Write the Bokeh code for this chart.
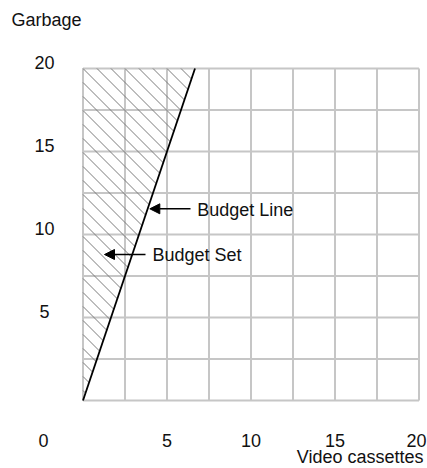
import numpy as np
from bokeh.plotting import figure
from bokeh.models import Range1d, Label, Arrow, NormalHead
from bokeh.embed import file_html
from bokeh.resources import INLINE

# ---- data ----
budget_x = [0, 20 / 3]          # budget line: Garbage = 3 * Video cassettes
budget_y = [0, 20]
grid_ticks = [0, 2.5, 5, 7.5, 10, 12.5, 15, 17.5, 20]
x_tick_vals = [5, 10, 15, 20]
y_tick_vals = [5, 10, 15, 20]
x_title = "Video cassettes"
y_title = "Garbage"
annotations = ["Budget Line", "Budget Set"]

FONT = "Liberation Sans"
FS = "18px"
W, H = 427, 468
# plotting area of the diagram inside the canvas (pixels)
L, R, T, B = 82.5, 418.5, 68.0, 400.0
kx = (R - L) / 20.0
ky = (B - T) / 20.0
DY = 6.5  # vertical text correction (pixels)

p = figure(width=W, height=H, output_backend="svg", toolbar_location=None, tools="",
           x_axis_type=None, y_axis_type=None,
           x_range=Range1d(-L / kx, (W - L) / kx),
           y_range=Range1d(-(H - B) / ky, (B / ky)),
           min_border=0, min_border_left=0, min_border_right=0,
           min_border_top=0, min_border_bottom=0)
p.outline_line_color = None
p.xgrid.visible = False
p.ygrid.visible = False
p.background_fill_color = "white"
p.border_fill_color = "white"

# grid of the diagram (from grid tick list)
gt = np.array(grid_ticks, dtype=float)
lo, hi = grid_ticks[0], grid_ticks[-1]
p.segment(x0=gt, y0=np.full_like(gt, lo), x1=gt, y1=np.full_like(gt, hi),
          line_color="#c6c6c6", line_width=2)
p.segment(x0=np.full_like(gt, lo), y0=gt, x1=np.full_like(gt, hi), y1=gt,
          line_color="#c6c6c6", line_width=2)

# hatch of the budget set: 45-degree (screen) lines between y-axis/top and budget line
slope = budget_y[1] / budget_x[1]
r = kx / ky
step = 14.0 / ky
cs = np.arange(hi + r * budget_x[1], 0, -step)
hx0, hy0, hx1, hy1 = [], [], [], []
for c in cs:
    if c <= hi:
        sx, sy = 0.0, c
    else:
        sx, sy = (c - hi) / r, hi
    ex = c / (slope + r)
    ey = slope * ex
    if ex > sx:
        hx0.append(sx); hy0.append(sy); hx1.append(ex); hy1.append(ey)
p.segment(x0=hx0, y0=hy0, x1=hx1, y1=hy1, line_color="#7c7c7c", line_width=1)

# budget line
p.line(budget_x, budget_y, line_color="black", line_width=1.8)

def lab(x, y, text, align="left"):
    p.add_layout(Label(x=x, y=y + DY / ky, text=text, text_font=FONT, text_font_size=FS,
                       text_color="#111111", text_align=align, text_baseline="alphabetic"))

# tick labels
ylab_x = (44 - L) / kx
xlab_y = -(446 - B) / ky
for v in y_tick_vals:
    lab(ylab_x, v, str(v), "center")
for v in x_tick_vals:
    xx = v if v < x_tick_vals[-1] else (416 - L) / kx
    lab(xx, xlab_y, str(v), "center")
lab((43 - L) / kx, xlab_y, "0", "center")

# axis titles
lab((11 - L) / kx, (B - 26) / ky, y_title, "left")
lab((423 - L) / kx, -(462.5 - B) / ky, x_title, "right")

# annotations with arrows
lab((196.7 - L) / kx, (B - 215.7) / ky, annotations[0], "left")
lab((152 - L) / kx, (B - 260.7) / ky, annotations[1], "left")
head = dict(size=10, fill_color="black", line_color="black")
p.add_layout(Arrow(x_start=(190 - L) / kx, y_start=(B - 208.3) / ky,
                   x_end=(149.3 - L) / kx, y_end=(B - 208.3) / ky,
                   line_color="black", line_width=1.5, end=NormalHead(**head)))
p.add_layout(Arrow(x_start=(145 - L) / kx, y_start=(B - 254) / ky,
                   x_end=(104 - L) / kx, y_end=(B - 254) / ky,
                   line_color="black", line_width=1.5, end=NormalHead(**head)))

open("out.html", "w").write(file_html(p, INLINE))
